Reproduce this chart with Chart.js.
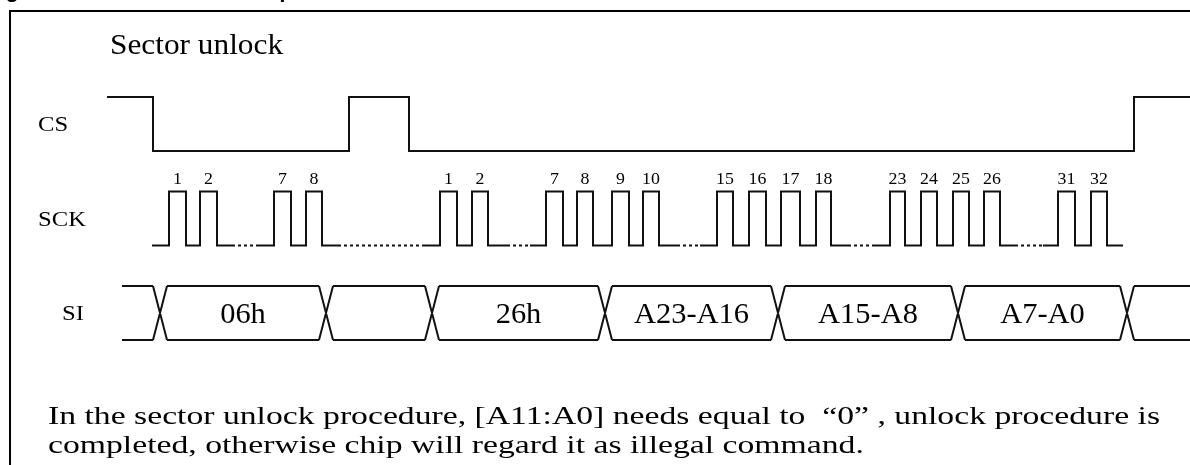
<!DOCTYPE html>
<html>
<head>
<meta charset="utf-8">
<script src="https://cdn.jsdelivr.net/npm/chart.js@4.4.1/dist/chart.umd.min.js"></script>
<style>
  html, body { margin: 0; padding: 0; background: #fff; }
  #wrap { width: 1190px; height: 465px; }
</style>
</head>
<body>
<div id="wrap"><canvas id="timing" width="1190" height="465"></canvas></div>
<script>
// x is diagram time, left to right; each signal sits on its own row
const csStart = 107;
const csEnd = 1190;
const csEdges = [153, 349, 409, 1134]; // starts high, toggles at each edge

const sckStart = 152;
const sckEnd = 1123;
const sckRise = [169, 200, 274, 306, 440, 472, 546, 577, 612, 643, 717, 749, 781, 816, 890, 921, 953, 984, 1058, 1091];
const sckFall = [186, 217, 291, 322, 457, 488, 563, 593, 629, 659, 733, 766, 800, 831, 905, 937, 969, 1000, 1075, 1107];
const sckLabels = ["1", "2", "7", "8", "1", "2", "7", "8", "9", "10", "15", "16", "17", "18", "23", "24", "25", "26", "31", "32"];
// low stretches drawn dotted (clocks that are left out)
const sckDotted = [[232, 257], [338, 423], [507, 530], [677, 700], [848, 873], [1015, 1043]];

const siStart = 122;
const siEnd = 1190;
const siCross = [160, 326, 432, 605, 778, 958, 1127];
const siLabels = ["06h", "", "26h", "A23-A16", "A15-A8", "A7-A0"];

const signalNames = ["CS", "SCK", "SI"];
const signalRows = [3, 2, 1];

const title = "Sector unlock";
const heading = "Figure 31. Sector unlock sequence";
const note = [
  "In the sector unlock procedure, [A11:A0] needs equal to  \u201c0\u201d , unlock procedure is",
  "completed, otherwise chip will regard it as illegal command."
];

const HI = 0.571;
const crossHalf = 7;
const SERIF = "'Liberation Serif', 'Times New Roman', Times, serif";

function csPoints() {
  const row = signalRows[0];
  let level = row + HI;
  const pts = [{ x: csStart, y: level }];
  csEdges.forEach(e => {
    pts.push({ x: e, y: level });
    level = level === row ? row + HI : row;
    pts.push({ x: e, y: level });
  });
  pts.push({ x: csEnd, y: level });
  return pts;
}

function sckPoints() {
  const low = signalRows[1];
  const high = low + HI;
  const pts = [{ x: sckStart, y: low }];
  let d = 0;
  sckRise.forEach((r, i) => {
    while (d < sckDotted.length && sckDotted[d][1] <= r) {
      pts.push({ x: sckDotted[d][0], y: low });
      pts.push({ x: sckDotted[d][0], y: null });
      pts.push({ x: sckDotted[d][1], y: low });
      d++;
    }
    pts.push({ x: r, y: low }, { x: r, y: high }, { x: sckFall[i], y: high }, { x: sckFall[i], y: low });
  });
  pts.push({ x: sckEnd, y: low });
  return pts;
}

function sckDots() {
  const low = signalRows[1];
  const pts = [];
  sckDotted.forEach(([a, b]) => {
    pts.push({ x: a, y: low }, { x: b, y: low }, { x: b, y: null });
  });
  return pts;
}

function siPoints() {
  const low = signalRows[2];
  const high = low + HI;
  const pts = [];
  const bounds = [siStart].concat(siCross, [siEnd]);
  for (let i = 0; i < bounds.length - 1; i++) {
    const a = i === 0 ? bounds[i] : bounds[i] + crossHalf;
    const b = i === bounds.length - 2 ? bounds[i + 1] : bounds[i + 1] - crossHalf;
    pts.push({ x: a, y: high }, { x: b, y: high }, { x: b, y: null });
    pts.push({ x: a, y: low }, { x: b, y: low }, { x: b, y: null });
  }
  siCross.forEach(c => {
    pts.push({ x: c - crossHalf, y: high }, { x: c + crossHalf, y: low }, { x: c + crossHalf, y: null });
    pts.push({ x: c - crossHalf, y: low }, { x: c + crossHalf, y: high }, { x: c + crossHalf, y: null });
  });
  return pts;
}

function wave(data, dash) {
  return {
    data: data,
    borderColor: "#111",
    borderWidth: 2,
    borderDash: dash || [],
    pointRadius: 0,
    tension: 0,
    fill: false,
    spanGaps: false,
    clip: false
  };
}

// the source scan is a little wider than tall, so text is drawn stretched
function stretchText(ctx, text, x, y, sx) {
  ctx.save();
  ctx.translate(x, y);
  ctx.scale(sx, 1);
  ctx.fillText(text, 0, 0);
  ctx.restore();
}

const textPlugin = {
  id: "timingText",
  afterDraw(chart) {
    const ctx = chart.ctx;
    const xs = chart.scales.x;
    const ys = chart.scales.y;
    ctx.save();
    ctx.fillStyle = "#000";
    ctx.strokeStyle = "#000";

    // frame
    ctx.lineWidth = 2;
    ctx.beginPath();
    ctx.moveTo(10, 465);
    ctx.lineTo(10, 11);
    ctx.lineTo(1190, 11);
    ctx.stroke();

    // cut-off heading above the frame
    ctx.font = "bold 22px 'Liberation Sans', Arial, sans-serif";
    ctx.textAlign = "left";
    ctx.textBaseline = "alphabetic";
    ctx.fillText(heading, -14, -3);

    ctx.font = "29px " + SERIF;
    stretchText(ctx, title, 110, 54, 1.08);

    // signal names
    ctx.font = "22px " + SERIF;
    const nameX = [38, 38, 62];
    signalNames.forEach((n, i) => {
      stretchText(ctx, n, nameX[i], ys.getPixelForValue(signalRows[i] + HI / 2) + 7, 1.12);
    });

    // clock numbers
    ctx.font = "17px " + SERIF;
    ctx.textAlign = "center";
    const numY = ys.getPixelForValue(signalRows[1] + HI) - 8;
    sckLabels.forEach((t, i) => {
      stretchText(ctx, t, xs.getPixelForValue((sckRise[i] + sckFall[i]) / 2), numY, 1.05);
    });

    // bus values
    ctx.font = "29px " + SERIF;
    const busY = ys.getPixelForValue(signalRows[2] + HI / 2) + 10;
    siLabels.forEach((t, i) => {
      if (!t) return;
      const mid = (siCross[i] + siCross[i + 1]) / 2;
      stretchText(ctx, t, xs.getPixelForValue(mid), busY, 1.05);
    });

    // note under the diagram
    ctx.textAlign = "left";
    ctx.font = "26px " + SERIF;
    const s = 1112 / ctx.measureText(note[0]).width;
    stretchText(ctx, note[0], 48, 424, s);
    stretchText(ctx, note[1], 48, 453, s);
    ctx.restore();
  }
};

function draw() {
  new Chart(document.getElementById("timing"), {
    type: "line",
    data: {
      datasets: [
        wave(csPoints()),
        wave(sckPoints()),
        wave(sckDots(), [3, 3]),
        wave(siPoints())
      ]
    },
    options: {
      responsive: false,
      animation: false,
      devicePixelRatio: 1,
      layout: { padding: 0 },
      plugins: {
        legend: { display: false },
        tooltip: { enabled: false }
      },
      scales: {
        x: { type: "linear", min: 0, max: 1190, display: false },
        y: { type: "linear", min: -0.323, max: 4.598, display: false }
      }
    },
    plugins: [textPlugin]
  });
}

Promise.all([
  document.fonts.load("28px 'Liberation Serif'"),
  document.fonts.load("bold 22px 'Liberation Sans'")
]).then(draw, draw);
</script>
</body>
</html>
